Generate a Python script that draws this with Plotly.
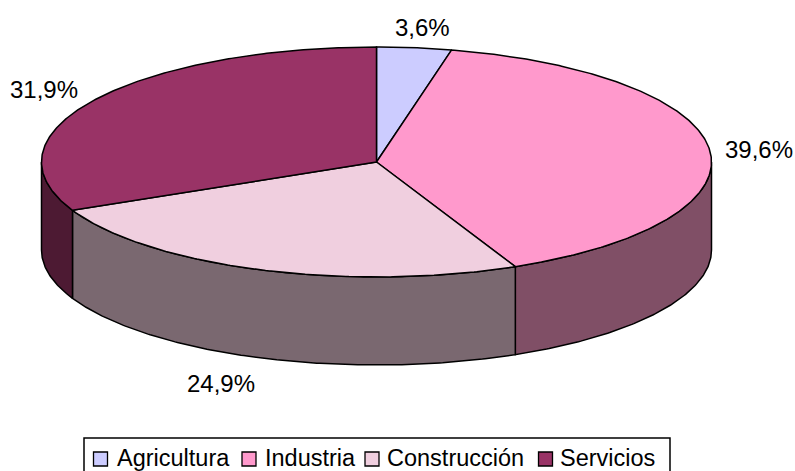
import numpy as np
import plotly.graph_objects as go

categories = ["Agricultura", "Industria", "Construcción", "Servicios"]
values = [3.6, 39.6, 24.9, 31.9]
top_colors = ["#CCCCFF", "#FF99CC", "#F0CFDF", "#993366"]
side_colors = ["#66667F", "#804F66", "#7A6870", "#4D1A33"]
label_anchor_x = [422, 759, 221, 44]
label_anchor_y = [27, 149, 383, 89]
legend_swatch_x = [100.5, 249, 372, 545.5]
legend_text_x = [115, 263, 385, 558]

W, H = 795, 471
CX, CY, RX, RY, DEPTH = 376.5, 162, 335, 115, 88
LINE = dict(color="black", width=1.5)


def rim(a0, a1, drop=0):
    t = np.radians(np.linspace(a0, a1, max(int(abs(a1 - a0) * 2), 2)))
    return CX + RX * np.sin(t), CY - RY * np.cos(t) + drop


fig = go.Figure()
bounds = np.concatenate([[0], np.cumsum(values)]) / sum(values) * 360

# side walls: only the front half of the disc (90..270 degrees) is visible
for i in range(len(values)):
    a0, a1 = max(bounds[i], 90), min(bounds[i + 1], 270)
    if a1 <= a0:
        continue
    xt, yt = rim(a0, a1)
    xb, yb = rim(a1, a0, DEPTH)
    fig.add_trace(go.Scatter(
        x=np.r_[xt, xb, xt[0]], y=np.r_[yt, yb, yt[0]], mode="lines",
        fill="toself", fillcolor=side_colors[i], line=LINE, hoverinfo="skip",
        showlegend=False))

# top face
for i in range(len(values)):
    xt, yt = rim(bounds[i], bounds[i + 1])
    fig.add_trace(go.Scatter(
        x=np.r_[CX, xt, CX], y=np.r_[CY, yt, CY], mode="lines",
        fill="toself", fillcolor=top_colors[i], line=LINE, name=categories[i],
        hoverinfo="name", showlegend=False))

# legend swatches
for i, c in enumerate(categories):
    fig.add_trace(go.Scatter(
        x=[legend_swatch_x[i]], y=[459], mode="markers", hoverinfo="skip",
        marker=dict(symbol="square", size=14, color=top_colors[i],
                    line=dict(color="black", width=1.3)),
        showlegend=False))

FAMILY = "Liberation Sans, Arial, sans-serif"
annotations = []
for i, v in enumerate(values):
    annotations.append(dict(
        x=label_anchor_x[i], y=label_anchor_y[i], xref="x", yref="y",
        text=f"{v:.1f}%".replace(".", ","), showarrow=False,
        font=dict(family=FAMILY, size=24, color="black")))
for i, c in enumerate(categories):
    annotations.append(dict(
        x=legend_text_x[i], y=458, xref="x", yref="y", text=c, xanchor="left",
        showarrow=False, font=dict(family=FAMILY, size=23.5, color="black")))

fig.update_layout(
    width=W, height=H, autosize=False, showlegend=False,
    margin=dict(l=0, r=0, t=0, b=0),
    paper_bgcolor="white", plot_bgcolor="white",
    xaxis=dict(range=[0, W], visible=False, fixedrange=True),
    yaxis=dict(range=[H, 0], visible=False, fixedrange=True),
    annotations=annotations,
    shapes=[dict(type="rect", xref="x", yref="y", x0=84, x1=670, y0=438, y1=480,
                 line=dict(color="black", width=1.5), fillcolor="rgba(0,0,0,0)",
                 layer="below")],
)
fig.write_html("out.html", config=dict(displayModeBar=False),
               post_script="document.body.style.margin='0';document.body.style.overflow='hidden';")
